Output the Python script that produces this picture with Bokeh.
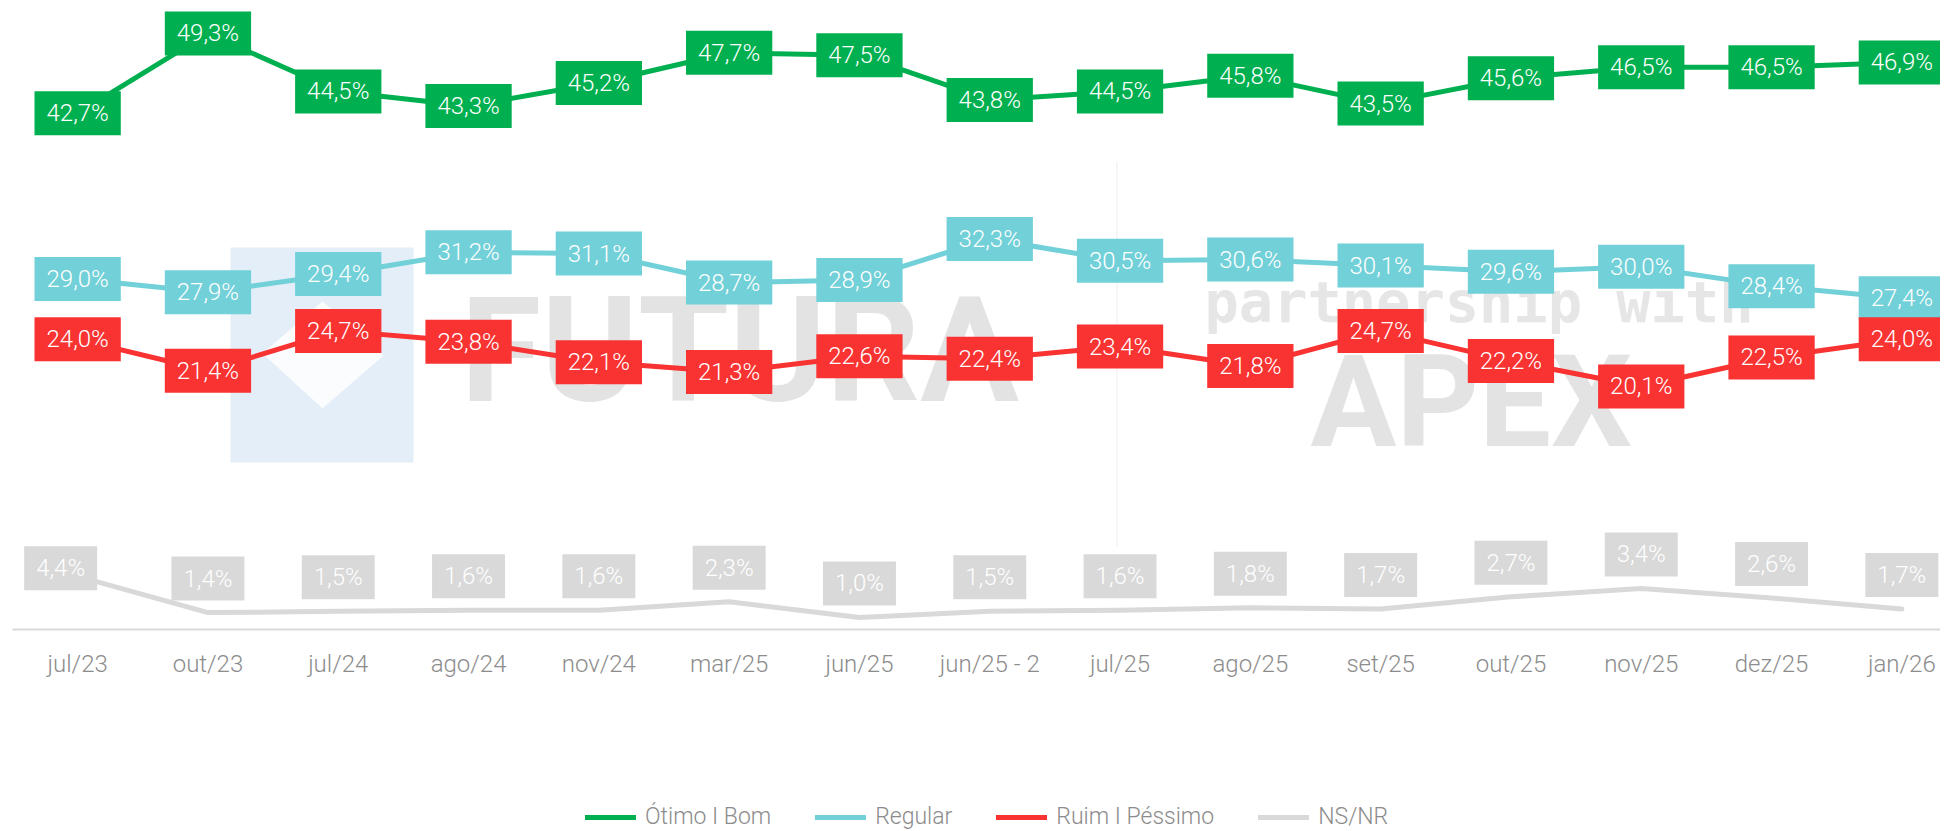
from bokeh.plotting import figure
from bokeh.layouts import column
from bokeh.models import (ColumnDataSource, Range1d, FixedTicker, Legend, LegendItem,
                          BoxAnnotation, PolyAnnotation, Label)
from bokeh.core.properties import value
from bokeh.embed import file_html
from bokeh.resources import INLINE

# ---------------- data ----------------
categories = ["jul/23", "out/23", "jul/24", "ago/24", "nov/24", "mar/25", "jun/25",
              "jun/25 - 2", "jul/25", "ago/25", "set/25", "out/25", "nov/25", "dez/25", "jan/26"]
otimo_bom = [42.7, 49.3, 44.5, 43.3, 45.2, 47.7, 47.5, 43.8, 44.5, 45.8, 43.5, 45.6, 46.5, 46.5, 46.9]
regular = [29.0, 27.9, 29.4, 31.2, 31.1, 28.7, 28.9, 32.3, 30.5, 30.6, 30.1, 29.6, 30.0, 28.4, 27.4]
ruim_pessimo = [24.0, 21.4, 24.7, 23.8, 22.1, 21.3, 22.6, 22.4, 23.4, 21.8, 24.7, 22.2, 20.1, 22.5, 24.0]
ns_nr = [4.4, 1.4, 1.5, 1.6, 1.6, 2.3, 1.0, 1.5, 1.6, 1.8, 1.7, 2.7, 3.4, 2.6, 1.7]
series_names = ["Ótimo I Bom", "Regular", "Ruim I Péssimo", "NS/NR"]

# ---------------- style ----------------
colors = ["#00B050", "#71D0D8", "#F93232", "#D9D9D9"]
FONT = "Roboto"
LIGHT = "300 "   # font weight prefix (light)
PX_PER_CAT = 130.3
PX_PER_PCT = 12.09
W = 1940
H1, H2 = 715, 115
LEFT = 12
FRAME_W, FRAME_H = W - LEFT, 629

p = figure(width=W, height=H1, output_backend="svg", toolbar_location=None,
           x_range=Range1d(-0.5, -0.5 + FRAME_W / PX_PER_CAT),
           y_range=Range1d(0, FRAME_H / PX_PER_PCT),
           y_axis_location=None,
           min_border_left=LEFT, min_border_right=0, min_border_top=0,
           min_border_bottom=H1 - FRAME_H)
p.outline_line_color = None
p.xgrid.visible = False
p.ygrid.visible = False
p.background_fill_color = "white"
p.border_fill_color = "white"

ax = p.xaxis[0]
ax.ticker = FixedTicker(ticks=list(range(len(categories))))
ax.major_label_overrides = {i: c for i, c in enumerate(categories)}
ax.axis_line_color = "#D9D9D9"
ax.axis_line_width = 2
ax.major_tick_line_color = None
ax.minor_tick_line_color = None
ax.major_label_standoff = 14
ax.major_label_text_font = FONT
ax.major_label_text_font_size = LIGHT + "24px"
ax.major_label_text_color = "#8C8C8C"

# ---------------- watermark (decorative, screen units relative to the frame) ----------------
def box(l, r, b, t, color):
    return BoxAnnotation(left=l, right=r, bottom=b, top=t,
                         left_units="screen", right_units="screen",
                         bottom_units="screen", top_units="screen",
                         fill_color=color, fill_alpha=1, line_color=None, level="underlay")

p.add_layout(box(218, 401, 167, 382, "#E4EEF8"))
p.add_layout(PolyAnnotation(xs=[310, 371, 310, 250], ys=[328, 274, 221, 276],
                            xs_units="screen", ys_units="screen",
                            fill_color="#FBFCFE", fill_alpha=1, line_color=None,
                            level="underlay"))
p.add_layout(box(1104, 1105, 83, 468, "#EEEEEE"))
p.add_layout(Label(x=448, y=279, x_units="screen", y_units="screen", text="FUTURA",
                   text_font="Roboto", text_font_style="bold", text_font_size="147px",
                   text_color="#E3E3E3", text_baseline="alphabetic", level="underlay"))
p.add_layout(Label(x=1192, y=328, x_units="screen", y_units="screen", text="partnership with",
                   text_font="'DejaVu Sans Mono'", text_font_style="bold", text_font_size="57px",
                   text_color="#E6E6E6", text_baseline="alphabetic", level="underlay"))
p.add_layout(Label(x=1298, y=228, x_units="screen", y_units="screen", text="APEX",
                   text_font="Roboto", text_font_style="bold", text_font_size="128px",
                   text_color="#E3E3E3", text_baseline="alphabetic", level="underlay"))

# ---------------- lines ----------------
xs = list(range(len(categories)))
all_series = [otimo_bom, regular, ruim_pessimo, ns_nr]
for vals, col in zip(all_series, colors):
    p.line(x=xs, y=vals, line_color=col, line_width=5, line_join="round", line_cap="round")

# ---------------- labels ----------------
def fmt(v):
    return f"{v:.1f}".replace(".", ",") + "%"

for k, (vals, col) in enumerate(zip(all_series, colors)):
    n = len(vals)
    if k == 3:
        xo = [-17 if i == 0 else 0 for i in range(n)]
        yo = [-8 if i == 0 else -34 for i in range(n)]
    else:
        xo = [0] * n
        yo = [0] * n
    src = ColumnDataSource(dict(x=xs, y=vals, t=[fmt(v) for v in vals], xo=xo, yo=yo))
    p.text(x="x", y="y", text="t", source=src, x_offset="xo", y_offset="yo",
           anchor="center", text_align="center", text_baseline="middle",
           text_color="white", text_font=value(FONT), text_font_size=LIGHT + "24px",
           background_fill_color=col, background_fill_alpha=1,
           padding=dict(left=12, right=12, top=8, bottom=8))

# ---------------- legend (separate strip under the chart) ----------------
pl = figure(width=W, height=H2, output_backend="svg", toolbar_location=None,
            x_axis_location=None, y_axis_location=None,
            x_range=Range1d(0, 1), y_range=Range1d(0, 1),
            min_border_left=0, min_border_right=0, min_border_top=0, min_border_bottom=0)
pl.outline_line_color = None
pl.xgrid.visible = False
pl.ygrid.visible = False
# legend swatch renderers: kept outside the strip's visible range
swatches = [pl.line(x=[5, 6], y=[5, 6], line_color=col, line_width=5, line_cap="round")
            for col in colors]
legend = Legend(items=[LegendItem(label=nm, renderers=[r]) for nm, r in zip(series_names, swatches)],
                orientation="horizontal", location=(573, 0),
                glyph_width=51, glyph_height=20, label_standoff=9, spacing=44,
                padding=0, margin=0, background_fill_alpha=0, border_line_alpha=0,
                label_text_font=FONT, label_text_font_size=LIGHT + "23px",
                label_text_color="#8C8C8C", label_height=22)
pl.add_layout(legend)

layout = column(p, pl, spacing=0)
open("out.html", "w").write(file_html(layout, INLINE))
